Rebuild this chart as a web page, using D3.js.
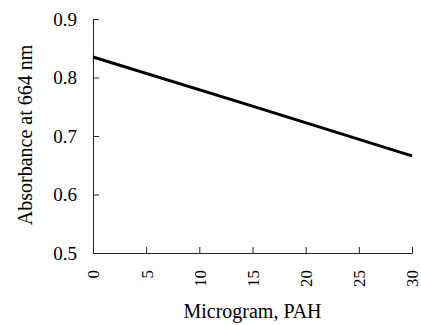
<!DOCTYPE html>
<html>
<head>
<meta charset="utf-8">
<script src="https://cdn.jsdelivr.net/npm/d3@7"></script>
<style>
  body { margin: 0; background: #fff; }
  svg { display: block; }
  svg text { font-family: "Liberation Serif", "Times New Roman", serif; fill: #000; }
</style>
</head>
<body>
<div id="chart"></div>
<script>
// values
const microgram = [0, 15, 30];
const absorbance = [0.835, 0.751, 0.666];
const xTicks = [0, 5, 10, 15, 20, 25, 30];
const yTicks = [0.5, 0.6, 0.7, 0.8, 0.9];

const margin = { top: 19, right: 9, bottom: 72, left: 93 },
    width = 421 - margin.left - margin.right,
    height = 325 - margin.top - margin.bottom;

const svg = d3.select("#chart")
    .append("svg")
    .attr("width", 421)
    .attr("height", 325);

const g = svg.append("g")
    .attr("transform", `translate(${margin.left}, ${margin.top})`);

const x = d3.scaleLinear().domain([0, 30]).range([0, width]);
const y = d3.scaleLinear().domain([0.5, 0.9]).range([height, 0]);

// x axis, ticks point inward, labels turned on their side
const xAxis = g.append("g")
    .attr("transform", `translate(0, ${height})`)
    .call(d3.axisBottom(x).tickValues(xTicks).tickSize(-6).tickSizeOuter(0));

xAxis.selectAll("text")
    .attr("x", 0)
    .attr("y", 0)
    .attr("dy", "0.35em")
    .attr("transform", "translate(0,17) rotate(-90)")
    .style("text-anchor", "end")
    .style("font-family", "'Liberation Serif', serif")
    .style("font-size", "17px");

// y axis
const yAxis = g.append("g")
    .call(d3.axisLeft(y).tickValues(yTicks).tickFormat(d3.format(".1f")).tickSize(-6).tickSizeOuter(0).tickPadding(16));

yAxis.selectAll("text")
    .style("font-family", "'Liberation Serif', serif")
    .style("font-size", "19px");

svg.selectAll(".domain, .tick line")
    .attr("stroke", "#222")
    .attr("stroke-width", 1);

// line
const line = d3.line()
    .x((d, i) => x(microgram[i]))
    .y(d => y(d));

g.append("path")
    .datum(absorbance)
    .attr("fill", "none")
    .attr("stroke", "#000")
    .attr("stroke-width", 3)
    .attr("d", line);

// axis titles
svg.append("text")
    .attr("x", margin.left + width / 2)
    .attr("y", 318)
    .style("text-anchor", "middle")
    .style("font-size", "20px")
    .text("Microgram, PAH");

svg.append("text")
    .attr("transform", "rotate(-90)")
    .attr("x", -135)
    .attr("y", 32)
    .style("text-anchor", "middle")
    .style("font-size", "20px")
    .text("Absorbance at 664 nm");
</script>
</body>
</html>
